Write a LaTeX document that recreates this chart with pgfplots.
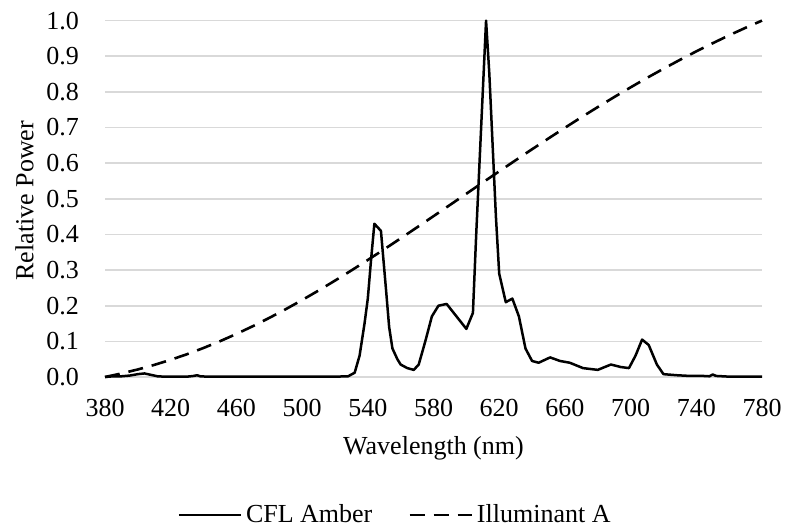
\documentclass[border=0pt]{standalone}
\usepackage{fontspec}
\setmainfont{Liberation Serif}
\usepackage{pgfplots}
\pgfplotsset{compat=1.18}
\definecolor{gridgray}{RGB}{217,217,217}
\newcommand{\chartfont}{\fontsize{13}{15.6}\selectfont}
\begin{document}
\chartfont
\begin{tikzpicture}
\useasboundingbox (0,0) rectangle (392.5pt,265.5pt);
\begin{axis}[
  at={(52.5pt,77pt)}, anchor=south west,
  scale only axis, width=328.5pt, height=178.2pt,
  xmin=380, xmax=780, ymin=0, ymax=1,
  xtick={380,420,...,780},
  ytick={0,0.1,...,1.0},
  /pgf/number format/assume math mode=true,
  yticklabel style={/pgf/number format/fixed, /pgf/number format/fixed zerofill, /pgf/number format/precision=1, xshift=-8.5pt},
  xticklabel style={/pgf/number format/1000 sep={}, yshift=-6.5pt},
  tick label style={font=\chartfont},
  axis line style={draw=none},
  tick style={draw=none},
  major tick length=0pt,
  ymajorgrids,
  grid style={gridgray, line width=0.8pt},
  xlabel={Wavelength (nm)},
  ylabel={Relative Power},
  label style={font=\chartfont},
  xlabel style={at={(axis description cs:0.5,0)}, anchor=center, yshift=-35.5pt},
  ylabel style={at={(axis description cs:-0.1225,0.495)}, anchor=center},
  legend style={at={(axis description cs:0.443,-0.387)}, anchor=center, draw=none, fill=none, font=\chartfont,
    /tikz/every even column/.append style={column sep=16pt}},
  legend columns=2,
  legend image code/.code={\draw[#1] (0pt,0pt) -- (31pt,0pt);},
  clip=false,
]
\addplot[black, line width=1.25pt, line join=round] coordinates {
(380,0) (385,0.002) (390,0.002) (395,0.004) (400,0.008) (404,0.010) (408,0.006)
(412,0.002) (416,0.001) (420,0.001) (430,0.001) (434,0.003) (436,0.005) (438,0.002)
(442,0.001) (460,0.001) (480,0.001) (500,0.001) (520,0.001) (528,0.002) (532,0.012)
(535,0.06) (538,0.15) (540,0.22) (542,0.33) (544,0.43) (548,0.41) (551,0.25)
(553,0.14) (555,0.08) (558,0.05) (560,0.035) (564,0.025) (568,0.02) (571,0.035)
(575,0.10) (579,0.17) (583,0.20) (588,0.205) (594,0.17) (600,0.135) (604,0.18)
(606,0.40) (608,0.60) (610,0.80) (612,1.0) (614,0.85) (616,0.65) (618,0.45)
(620,0.29) (624,0.21) (628,0.22) (632,0.17) (636,0.08) (640,0.045) (644,0.04)
(651,0.055) (657,0.045) (663,0.04) (671,0.025) (680,0.02) (688,0.035) (694,0.028)
(699,0.025) (703,0.06) (707,0.105) (711,0.09) (716,0.035) (720,0.008) (728,0.005)
(736,0.003) (744,0.003) (748,0.002) (750,0.007) (752,0.003) (760,0.001) (770,0.001)
(780,0.001)
};
\addlegendentry{CFL Amber}
\addplot[black, line width=1.3pt, dash pattern=on 7.5pt off 4.5pt] coordinates {
(380,0) (390,0.0099) (400,0.0212) (410,0.0340) (420,0.0483) (430,0.0641)
(440,0.0815) (450,0.1004) (460,0.1208) (470,0.1426) (480,0.1658) (490,0.1902)
(500,0.2159) (510,0.2426) (520,0.2704) (530,0.2990) (540,0.3284) (550,0.3584)
(560,0.3890) (570,0.4200) (580,0.4513) (590,0.4827) (600,0.5142) (610,0.5458)
(620,0.5771) (630,0.6082) (640,0.6390) (650,0.6694) (660,0.6993) (670,0.7287)
(680,0.7574) (690,0.7854) (700,0.8127) (710,0.8393) (720,0.8649) (730,0.8898)
(740,0.9137) (750,0.9366) (760,0.9588) (770,0.9799) (780,1.0)
};
\addlegendentry{Illuminant A}
\end{axis}
\end{tikzpicture}
\end{document}
